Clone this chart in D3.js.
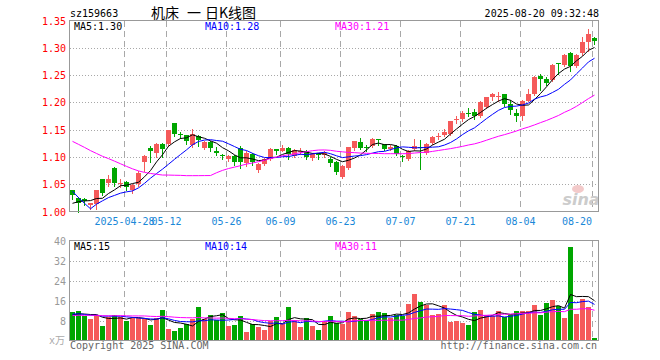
<!DOCTYPE html>
<html lang="zh-CN">
<head>
<meta charset="utf-8">
<title>sz159663 日K线图</title>
<script src="https://cdn.jsdelivr.net/npm/d3@7"></script>
<style>
body { margin: 0; background: #fff; }
svg text { font-family: "DejaVu Sans Mono", monospace; font-size: 10px; }
</style>
</head>
<body>
<svg id="chart" width="660" height="360"></svg>
<script>
// trading days shown (2025-04-15 .. 2025-08-20)
var dates = [
  "04-15","04-16","04-17","04-18","04-21","04-22","04-23","04-24","04-25","04-28","04-29","04-30",
  "05-06","05-07","05-08","05-09","05-12","05-13","05-14","05-15","05-16","05-19","05-20","05-21",
  "05-22","05-23","05-26","05-27","05-28","05-29","05-30",
  "06-03","06-04","06-05","06-06","06-09","06-10","06-11","06-12","06-13","06-16","06-17","06-18",
  "06-19","06-20","06-23","06-24","06-25","06-26","06-27","06-30",
  "07-01","07-02","07-03","07-04","07-07","07-08","07-09","07-10","07-11","07-14","07-15","07-16",
  "07-17","07-18","07-21","07-22","07-23","07-24","07-25","07-28","07-29","07-30","07-31",
  "08-01","08-04","08-05","08-06","08-07","08-08","08-11","08-12","08-13","08-14","08-15",
  "08-18","08-19","08-20"
];

var open = [
  1.039,1.025,1.022,1.011,1.013,1.059,1.052,1.080,1.052,1.054,1.039,1.050,
  1.090,1.117,1.108,1.123,1.123,1.162,1.142,1.140,1.121,1.139,1.117,1.128,
  1.110,1.104,1.096,1.102,1.117,1.088,1.106,
  1.076,1.087,1.097,1.114,1.111,1.117,1.101,1.109,1.111,1.098,1.106,1.103,
  1.097,1.090,1.064,1.080,1.117,1.128,1.118,1.120,
  1.132,1.123,1.114,1.120,1.102,1.097,1.115,1.118,1.108,1.125,1.136,1.140,
  1.142,1.168,1.169,1.181,1.183,1.175,1.191,1.209,1.211,1.215,1.197,
  1.181,1.175,1.203,1.215,1.249,1.242,1.241,1.272,1.268,1.290,1.267,
  1.290,1.311,1.318
];
var high = [
  1.040,1.027,1.024,1.016,1.040,1.060,1.066,1.081,1.060,1.056,1.050,1.074,
  1.103,1.120,1.126,1.126,1.150,1.163,1.146,1.141,1.152,1.141,1.130,1.130,
  1.118,1.106,1.104,1.103,1.120,1.110,1.108,
  1.089,1.098,1.116,1.114,1.121,1.118,1.115,1.117,1.112,1.108,1.108,1.110,
  1.100,1.093,1.086,1.119,1.130,1.135,1.122,1.134,
  1.132,1.124,1.121,1.121,1.103,1.112,1.132,1.131,1.125,1.138,1.143,1.151,
  1.166,1.175,1.184,1.189,1.187,1.203,1.210,1.218,1.219,1.216,1.205,
  1.187,1.204,1.224,1.248,1.252,1.246,1.270,1.272,1.288,1.292,1.288,
  1.319,1.335,1.319
];
var low = [
  1.022,1.000,1.012,1.005,1.005,1.030,1.047,1.047,1.044,1.040,1.034,1.047,
  1.074,1.090,1.100,1.100,1.120,1.139,1.135,1.124,1.118,1.120,1.114,1.111,
  1.104,1.097,1.093,1.085,1.080,1.084,1.086,
  1.073,1.085,1.094,1.105,1.110,1.096,1.099,1.105,1.097,1.094,1.097,1.100,
  1.083,1.069,1.062,1.078,1.112,1.114,1.110,1.119,
  1.121,1.113,1.112,1.103,1.092,1.095,1.113,1.077,1.106,1.124,1.132,1.139,
  1.140,1.162,1.166,1.175,1.169,1.174,1.189,1.205,1.202,1.193,1.178,
  1.166,1.168,1.203,1.213,1.223,1.231,1.240,1.252,1.266,1.258,1.264,
  1.286,1.294,1.307
];
var close = [
  1.031,1.015,1.019,1.015,1.039,1.033,1.059,1.052,1.053,1.044,1.048,1.071,
  1.102,1.110,1.123,1.114,1.149,1.142,1.141,1.129,1.142,1.131,1.128,1.117,
  1.108,1.101,1.102,1.091,1.090,1.108,1.090,
  1.087,1.096,1.114,1.110,1.116,1.105,1.113,1.110,1.099,1.105,1.105,1.108,
  1.088,1.072,1.083,1.118,1.129,1.117,1.117,1.133,
  1.131,1.114,1.119,1.105,1.101,1.111,1.120,1.117,1.124,1.137,1.138,1.146,
  1.165,1.170,1.181,1.180,1.175,1.201,1.209,1.215,1.212,1.197,1.186,
  1.175,1.203,1.215,1.246,1.242,1.236,1.269,1.271,1.287,1.267,1.287,
  1.310,1.326,1.313
];
// volume, 万手
var volume = [
  11.4,11.8,10.0,8.6,10.2,5.9,9.4,10.2,9.4,7.8,9.2,9.2,
  8.6,6.3,9.2,12.2,4.6,3.8,5.1,6.8,8.8,13.5,8.6,10.3,
  8.3,11.0,5.7,6.1,9.9,3.6,6.7,
  5.4,4.4,7.7,9.6,6.7,13.6,8.1,5.3,9.0,5.7,4.1,7.7,
  10.0,7.0,6.7,11.5,9.9,8.7,7.7,10.7,
  11.5,11.0,9.2,10.4,9.9,14.7,18.6,15.4,14.4,10.3,10.7,14.1,
  7.3,7.9,7.0,6.1,11.5,12.3,10.3,10.0,11.9,9.5,10.3,
  11.7,11.9,11.9,14.3,10.3,15.0,16.2,14.0,9.2,37.6,10.7,
  16.6,13.6,1.1
];
// 29 sessions before the window, only feed the moving averages
var histClose = [
  1.180,1.186,1.192,1.195,1.190,1.185,1.192,1.196,1.188,1.183,1.186,1.183,
  1.170,1.165,1.158,1.150,1.152,1.148,1.145,1.142,
  1.130,1.125,1.114,0.955,0.971,1.000,1.012,1.012,1.020
];
var histVolume = [
  9.5,10.2,8.8,9.6,11.0,10.4,9.1,8.7,9.9,10.5,9.3,8.9,10.8,11.4,9.7,
  9.0,10.1,9.4,8.6,9.8,10.6,12.5,11.8,10.3,9.2,9.6,10.4,9.5,10.2
];

var priceTicks = [1.00, 1.05, 1.10, 1.15, 1.20, 1.25, 1.30, 1.35];
var volTicks = [8, 16, 24, 32, 40];
var tickDates = ["04-28","05-12","05-26","06-09","06-23","07-07","07-21","08-04","08-20"];
var tickLabels = ["2025-04-28","05-12","05-26","06-09","06-23","07-07","07-21","08-04","08-20"];
var maPeriods = [5, 10, 30];
var maColors = ["#000000", "#0000ff", "#ff00ff"];
var priceMaText = ["MA5:1.30", "MA10:1.28", "MA30:1.21"];
var volMaText = ["MA5:15", "MA10:14", "MA30:11"];
var titleParts = ["机床", "一", "日K线图"];

var upColor = "#f55a5a", downColor = "#00a600";
var gridColor = "#a8a8a8", borderColor = "#999";

var svg = d3.select("#chart");

var x = d3.scaleBand().domain(dates).range([70, 598]);
var yP = d3.scaleLinear().domain([1.0, 1.35]).range([211.5, 20.5]);
var yV = d3.scaleLinear().domain([0, 40]).range([340.5, 240.5]);

function movingAvg(vals, hist, n) {
  var all = hist.concat(vals);
  var off = hist.length;
  return vals.map(function(v, i) {
    return d3.mean(all.slice(off + i - n + 1, off + i + 1));
  });
}

// header
svg.append("text").attr("x", 70).attr("y", 17).text("sz159663");
var title = svg.append("text").attr("y", 18)
  .style("font-family", "'Noto Sans CJK SC', sans-serif").style("font-size", "14px");
var titleX = [151, 187, 205];
titleParts.forEach(function(t, k) {
  title.append("tspan").attr("x", titleX[k]).text(t);
});
svg.append("text").attr("x", 599).attr("y", 17).attr("text-anchor", "end")
  .text("2025-08-20 09:32:48");

// grid - horizontal dotted
svg.selectAll(".hgrid").data(priceTicks.slice(1, -1)).enter().append("line")
  .attr("x1", 70).attr("x2", 598)
  .attr("y1", function(d) { return Math.round(yP(d)) + 0.5; })
  .attr("y2", function(d) { return Math.round(yP(d)) + 0.5; })
  .attr("stroke", gridColor).attr("stroke-dasharray", "1,2");
svg.selectAll(".vhgrid").data(volTicks.slice(0, -1)).enter().append("line")
  .attr("x1", 70).attr("x2", 598)
  .attr("y1", function(d) { return Math.round(yV(d)) + 0.5; })
  .attr("y2", function(d) { return Math.round(yV(d)) + 0.5; })
  .attr("stroke", gridColor).attr("stroke-dasharray", "1,2");

// grid - vertical dashed, both panels
[[21, 211], [241, 340]].forEach(function(r) {
  svg.selectAll(null).data(tickDates).enter().append("line")
    .attr("x1", function(d) { return x(d) + 0.5; })
    .attr("x2", function(d) { return x(d) + 0.5; })
    .attr("y1", r[0]).attr("y2", r[1])
    .attr("stroke", gridColor).attr("stroke-dasharray", "6,4");
});

// sina watermark
svg.append("ellipse").attr("cx", 578).attr("cy", 189).attr("rx", 6).attr("ry", 4)
  .attr("fill", "#f3caca");
svg.append("text").attr("x", 581).attr("y", 205).attr("text-anchor", "middle")
  .style("font-family", "'DejaVu Sans', sans-serif").style("font-size", "16px")
  .style("font-style", "italic").style("font-weight", "bold")
  .attr("fill", "#cccccc").text("sina");

// candles
var idx = d3.range(dates.length);
function isUp(i) { return close[i] >= open[i]; }

var candles = svg.append("g").attr("shape-rendering", "crispEdges");
candles.selectAll(".wick").data(idx).enter().append("line")
  .attr("x1", function(i) { return x(dates[i]) + 2.5; })
  .attr("x2", function(i) { return x(dates[i]) + 2.5; })
  .attr("y1", function(i) { return Math.round(yP(high[i])); })
  .attr("y2", function(i) { return Math.round(yP(low[i])) + 1; })
  .attr("stroke", function(i) { return isUp(i) ? upColor : downColor; });
candles.selectAll(".body").data(idx).enter().append("rect")
  .attr("x", function(i) { return x(dates[i]); })
  .attr("width", 5)
  .attr("y", function(i) { return Math.round(yP(Math.max(open[i], close[i]))); })
  .attr("height", function(i) {
    return Math.max(1, Math.round(yP(Math.min(open[i], close[i]))) - Math.round(yP(Math.max(open[i], close[i]))));
  })
  .attr("fill", function(i) { return isUp(i) ? upColor : downColor; });

// volume bars
svg.append("g").attr("shape-rendering", "crispEdges")
  .selectAll("rect").data(idx).enter().append("rect")
  .attr("x", function(i) { return x(dates[i]); })
  .attr("width", 5)
  .attr("y", function(i) { return Math.round(yV(volume[i])); })
  .attr("height", function(i) { return 340 - Math.round(yV(volume[i])); })
  .attr("fill", function(i) { return isUp(i) ? upColor : downColor; });

// moving averages
maPeriods.forEach(function(n, k) {
  var pm = movingAvg(close, histClose, n);
  var vm = movingAvg(volume, histVolume, n);
  svg.append("path").datum(pm)
    .attr("d", d3.line().x(function(d, i) { return x(dates[i]) + 2.5; }).y(function(d) { return yP(d); }))
    .attr("fill", "none").attr("stroke", maColors[k]).attr("stroke-width", 1);
  svg.append("path").datum(vm)
    .attr("d", d3.line().x(function(d, i) { return x(dates[i]) + 2.5; }).y(function(d) { return yV(d); }))
    .attr("fill", "none").attr("stroke", maColors[k]).attr("stroke-width", 1);
});

// panel borders
svg.append("rect").attr("x", 69.5).attr("y", 20.5).attr("width", 529).attr("height", 191)
  .attr("fill", "none").attr("stroke", borderColor);
svg.append("rect").attr("x", 69.5).attr("y", 240.5).attr("width", 529).attr("height", 100)
  .attr("fill", "none").attr("stroke", borderColor);

// MA legends
var legendX = [74, 205, 335];
priceMaText.forEach(function(t, k) {
  svg.append("text").attr("x", legendX[k]).attr("y", 30).attr("fill", maColors[k]).text(t);
});
volMaText.forEach(function(t, k) {
  svg.append("text").attr("x", legendX[k]).attr("y", 250).attr("fill", maColors[k]).text(t);
});

// y labels
svg.selectAll(".plab").data(priceTicks).enter().append("text")
  .attr("x", 66).attr("y", function(d) { return yP(d) + 4; })
  .attr("text-anchor", "end").attr("fill", "#ff0000")
  .text(function(d) { return d.toFixed(2); });
svg.selectAll(".vlab").data(volTicks).enter().append("text")
  .attr("x", 66).attr("y", function(d) { return yV(d) + 4; })
  .attr("text-anchor", "end").attr("fill", "#999")
  .text(function(d) { return d; });
svg.append("text").attr("x", 65).attr("y", 344).attr("text-anchor", "end")
  .attr("fill", "#aaa").text("x万");

// x labels (the first two overlap in the original too)
svg.selectAll(".xlab").data(tickDates).enter().append("text")
  .attr("x", function(d, i) { return i === tickDates.length - 1 ? x(d) : x(d) + 0.5; })
  .attr("y", 225)
  .attr("text-anchor", function(d, i) { return i === tickDates.length - 1 ? "end" : "middle"; })
  .attr("fill", "#1a88d8")
  .text(function(d, i) { return tickLabels[i]; });

// footer
svg.append("text").attr("x", 70).attr("y", 349).attr("fill", "#666").text("Copyright 2025 SINA.COM");
svg.append("text").attr("x", 597).attr("y", 349).attr("text-anchor", "end").attr("fill", "#666")
  .text("http://finance.sina.com.cn");
</script>
</body>
</html>
